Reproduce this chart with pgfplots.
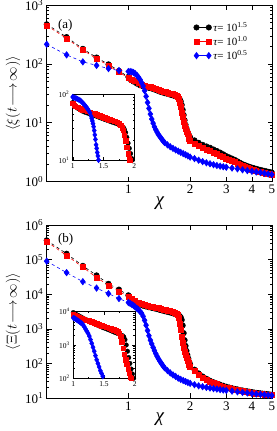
\documentclass[border=0pt]{standalone}
\usepackage{pgfplots}
\pgfplotsset{compat=1.18}
\usepackage{fontspec}
\setmainfont{Liberation Serif}
\definecolor{myred}{rgb}{1,0,0}
\definecolor{myblue}{rgb}{0,0,1}
\begin{document}
\begin{tikzpicture}
% ---------------- top panel ----------------
\begin{axis}[at={(46.7pt,249.5pt)}, anchor=south west,
  scale only axis, width=226pt, height=176.5pt, xmode=log, ymode=log,
  xmin=0.4, xmax=5.05, clip=false,
  xtick={1,2,3,4,5}, xticklabels={1,2,3,4,5}, xminorticks=false,
  tick align=inside, major tick length=5pt, minor tick length=2.5pt,
  every tick/.style={black, line width=0.5pt},
  axis line style={line width=0.6pt},
  ticklabel style={font=\fontsize{13}{13}\selectfont},
  xlabel={\fontsize{19}{19}\selectfont\itshape χ},
  xlabel style={yshift=4pt},
  ylabel style={yshift=-2pt},
  ymin=1, ymax=1000,
  ytick={1,10,100,1000},
  yticklabels={10\textsuperscript{0},10\textsuperscript{1},10\textsuperscript{2},10\textsuperscript{3}},
  minor ytick={2,3,4,5,6,7,8,9,20,30,40,50,60,70,80,90,200,300,400,500,600,700,800,900},
  ylabel={\fontsize{15}{15}\selectfont$\left\langle \xi(t\!\longrightarrow\!\infty)\right\rangle$},
  legend image code/.code={\draw[#1, solid] plot coordinates {(0pt,0pt) (12.3pt,0pt)};},
  legend style={draw=none, fill=none, at={(0.65,0.915)}, anchor=north west,
    font=\fontsize{11}{11}\selectfont, inner sep=0pt, row sep=-0.5pt, cells={anchor=west}},
]
\addplot[color=black, mark=*, mark size=2.7pt, dashed, line width=0.6pt, mark options={solid}] coordinates {(0.4,470)(0.5,285)(0.6,180)(0.7,128)(0.8,98)(0.9,76)(1.0,60)
(1.02,55)(1.06,49.9)(1.10,46.1)(1.14,43.2)(1.18,41.3)(1.22,39.9)(1.26,39)(1.30,38)(1.34,36.6)(1.38,35.2)(1.42,33.8)(1.46,32.8)(1.50,31.8)(1.54,31.1)(1.58,30.3)(1.62,29.5)(1.66,28.8)(1.70,28)(1.74,27.1)(1.76,26.3)(1.78,25)(1.80,23)(1.82,20)(1.84,16.5)(1.86,13.5)(1.88,11)(1.90,9.2)(1.92,8)(1.94,7.1)(1.96,6.5)(1.98,6.0)(2.00,5.6)
(2.1,5.0)(2.2,4.55)(2.3,4.2)(2.4,3.95)(2.5,3.75)(2.6,3.5)(2.7,3.3)(2.8,3.1)(2.9,2.9)(3.0,2.7)(3.1,2.57)(3.2,2.45)(3.3,2.33)(3.4,2.2)(3.5,2.08)(3.6,1.97)(3.7,1.9)(3.8,1.83)(3.9,1.77)(4.0,1.72)(4.1,1.68)(4.2,1.64)(4.3,1.6)(4.4,1.57)(4.5,1.54)(4.6,1.51)(4.7,1.49)(4.8,1.46)(4.9,1.44)(5.0,1.42)};
\addlegendentry{{\itshape τ}= 10\textsuperscript{1.5}}
\addplot[color=myred, mark=square*, mark size=2.5pt, dashed, line width=0.6pt, mark options={solid}] coordinates {(0.4,450)(0.5,270)(0.6,172)(0.7,122)(0.8,94)(0.9,72)(1.0,58)(1.04,54.5)(1.08,50.5)(1.12,47)(1.16,44.5)(1.20,42.5)(1.24,41.5)(1.28,40.5)(1.32,39.2)(1.36,37.8)(1.40,36.2)(1.44,35)(1.48,34)(1.52,33.1)(1.56,32.3)(1.60,31.5)(1.64,30.7)(1.68,29.9)(1.72,28.6)(1.74,27.3)(1.76,25.2)(1.78,22)(1.80,18.5)(1.82,15)(1.84,12.5)(1.86,10.5)(1.88,9)(1.90,8)(1.92,7.1)(1.94,6.4)(1.96,5.8)(1.98,5.3)(2.00,5.0)
(2.1,4.4)(2.2,4.0)(2.3,3.75)(2.4,3.5)(2.5,3.3)(2.6,3.1)(2.7,2.92)(2.8,2.75)(2.9,2.6)(3.0,2.45)(3.1,2.33)(3.2,2.22)(3.3,2.12)(3.4,2.02)(3.5,1.93)(3.6,1.85)(3.7,1.78)(3.8,1.72)(3.9,1.66)(4.0,1.61)(4.1,1.57)(4.2,1.53)(4.3,1.49)(4.4,1.46)(4.5,1.43)(4.6,1.4)(4.7,1.37)(4.8,1.35)(4.9,1.33)(5.0,1.31)};
\addlegendentry{{\itshape τ}= 10\textsuperscript{1.0}}
\addplot[color=myblue, mark=diamond*, mark size=3.2pt, dashed, line width=0.6pt, mark options={solid}] coordinates {(0.4,215)(0.5,142)(0.6,108)(0.7,94)(0.8,83)(0.9,77)(1.0,74)(1.02,74)(1.04,73)(1.06,71)(1.08,68)(1.10,64)(1.12,59)(1.14,54)(1.16,48)(1.18,42)(1.20,35)(1.22,28)(1.24,22)(1.26,17.5)(1.28,14)(1.30,11.5)(1.32,9.8)(1.34,8.5)(1.36,7.6)(1.38,6.9)(1.40,6.3)(1.42,5.9)(1.44,5.5)(1.46,5.15)(1.48,4.85)(1.50,4.6)(1.55,4.2)(1.60,3.9)(1.65,3.65)(1.70,3.45)(1.75,3.28)(1.80,3.12)(1.85,2.98)(1.90,2.85)(1.95,2.73)(2.00,2.6)
(2.1,2.45)(2.2,2.3)(2.3,2.18)(2.4,2.08)(2.5,2.0)(2.6,1.93)(2.7,1.87)(2.8,1.82)(2.9,1.78)(3.0,1.75)(3.2,1.69)(3.4,1.64)(3.6,1.58)(3.8,1.53)(4.0,1.49)(4.2,1.45)(4.4,1.42)(4.6,1.38)(4.8,1.34)(5.0,1.31)};
\addlegendentry{{\itshape τ}= 10\textsuperscript{0.5}}
\node[anchor=west, font=\fontsize{13}{13}\selectfont] at (rel axis cs:0.035,0.885) {(a)};
\end{axis}
% top inset
\begin{axis}[at={(72.7pt,271pt)}, anchor=south west,
  scale only axis, width=61.5pt, height=66pt, ymode=log,
  xmin=1, xmax=2, clip=true,
  xtick={1,1.5,2}, xticklabels={1,1.5,2}, minor x tick num=1,
  tick align=inside, major tick length=3pt, minor tick length=1.5pt,
  every tick/.style={black, line width=0.4pt},
  axis line style={line width=0.6pt},
  axis background/.style={fill=white},
  ticklabel style={font=\fontsize{7.5}{7.5}\selectfont},
  ymin=10, ymax=100, ytick={10,100},
  yticklabels={10\textsuperscript{1},10\textsuperscript{2}},
  minor ytick={20,30,40,50,60,70,80,90},
]
\addplot[color=black, mark=*, mark size=2.3pt, only marks] coordinates {(1.00,74)(1.04,66)(1.08,61)(1.12,57.5)(1.16,55)(1.20,53)(1.24,51.5)(1.28,50)(1.32,48.5)(1.36,47)(1.40,45.5)(1.44,44)(1.48,42.5)(1.52,41.2)(1.56,40)(1.60,38.8)(1.64,37.6)(1.68,36.5)(1.72,35.5)(1.76,34.5)(1.80,33)(1.82,31.5)(1.84,29)(1.86,26)(1.88,22)(1.90,18)(1.92,15)(1.94,12.5)(1.96,10.5)(1.97,10)};
\addplot[color=myred, mark=square*, mark size=2.2pt, only marks] coordinates {(1.00,72)(1.02,68)(1.04,66)(1.08,62.5)(1.12,60)(1.16,58)(1.20,56.5)(1.24,55)(1.28,53)(1.32,51.5)(1.36,50)(1.40,48.5)(1.44,47)(1.48,45.5)(1.52,44)(1.56,42.5)(1.60,41)(1.64,40)(1.68,38.8)(1.72,37.5)(1.76,35.5)(1.78,33.5)(1.80,31)(1.82,28)(1.84,24)(1.86,19.5)(1.88,15.5)(1.90,12.5)(1.92,10.5)(1.93,10)};
\addplot[color=myblue, mark=diamond*, mark size=2.8pt, only marks] coordinates {(1.00,90)(1.02,88.5)(1.04,87)(1.06,85.5)(1.08,84)(1.10,82)(1.12,80)(1.14,77)(1.16,74)(1.18,70.5)(1.20,67)(1.22,63.5)(1.24,60)(1.26,56)(1.28,52)(1.30,46)(1.31,42.5)(1.32,39)(1.33,35.5)(1.34,32)(1.35,28)(1.36,24)(1.37,20.5)(1.38,17)(1.39,15)(1.40,13)(1.41,11.5)(1.42,10)};
\end{axis}
% ---------------- bottom panel ----------------
\begin{axis}[at={(46.7pt,33pt)}, anchor=south west,
  scale only axis, width=226pt, height=173pt, xmode=log, ymode=log,
  xmin=0.4, xmax=5.05, clip=false,
  xtick={1,2,3,4,5}, xticklabels={1,2,3,4,5}, xminorticks=false,
  tick align=inside, major tick length=5pt, minor tick length=2.5pt,
  every tick/.style={black, line width=0.5pt},
  axis line style={line width=0.6pt},
  ticklabel style={font=\fontsize{13}{13}\selectfont},
  xlabel={\fontsize{19}{19}\selectfont\itshape χ},
  xlabel style={yshift=4pt},
  ylabel style={yshift=-2pt},
  ymin=10, ymax=1e6,
  ytick={10,100,1000,10000,100000,1000000},
  yticklabels={10\textsuperscript{1},10\textsuperscript{2},10\textsuperscript{3},10\textsuperscript{4},10\textsuperscript{5},10\textsuperscript{6}},
  minor ytick={20,30,40,50,60,70,80,90,200,300,400,500,600,700,800,900,2000,3000,4000,5000,6000,7000,8000,9000,20000,30000,40000,50000,60000,70000,80000,90000,200000,300000,400000,500000,600000,700000,800000,900000},
  ylabel={\fontsize{15}{15}\selectfont$\left\langle \Xi(t\!\longrightarrow\!\infty)\right\rangle$},
]
\addplot[color=black, mark=*, mark size=2.7pt, dashed, line width=0.6pt, mark options={solid}] coordinates {(0.4,3.6e5)(0.5,1.48e5)(0.6,6.6e4)(0.7,3.5e4)(0.8,2.0e4)(0.9,1.36e4)(1.0,9.3e3)
(1.02,7300)(1.06,6190)(1.10,5470)(1.14,5000)(1.18,4640)(1.22,4400)(1.26,4200)(1.30,4030)(1.34,3870)(1.38,3700)(1.42,3530)(1.46,3380)(1.50,3240)(1.54,3120)(1.58,3010)(1.62,2890)(1.66,2760)(1.70,2640)(1.74,2500)(1.76,2420)(1.78,2320)(1.80,2150)(1.82,1800)(1.84,1250)(1.86,750)(1.88,470)(1.90,320)(1.92,230)(1.94,175)(1.96,138)(1.98,111)(2.00,94)
(2.1,66)(2.2,51.5)(2.3,42)(2.4,36)(2.5,31.5)(2.6,28.5)(2.7,26.2)(2.8,24.2)(2.9,22.6)(3.0,21.2)(3.1,20.1)(3.2,19.2)(3.3,18.4)(3.4,17.7)(3.5,17)(3.6,16.5)(3.7,16)(3.8,15.6)(3.9,15.2)(4.0,14.8)(4.1,14.4)(4.2,14.1)(4.3,13.8)(4.4,13.6)(4.5,13.4)(4.6,13.2)(4.7,13)(4.8,12.8)(4.9,12.6)(5.0,12.4)};
\addplot[color=myred, mark=square*, mark size=2.5pt, dashed, line width=0.6pt, mark options={solid}] coordinates {(0.4,3.3e5)(0.5,1.32e5)(0.6,6.0e4)(0.7,3.05e4)(0.8,1.8e4)(0.9,1.2e4)(1.0,8.5e3)(1.04,7200)(1.08,6250)(1.12,5640)(1.16,5200)(1.20,4900)(1.24,4680)(1.28,4460)(1.32,4300)(1.36,4100)(1.40,3920)(1.44,3750)(1.48,3600)(1.52,3450)(1.56,3330)(1.60,3210)(1.64,3070)(1.68,2920)(1.72,2700)(1.74,2480)(1.76,2050)(1.78,1390)(1.80,910)(1.82,580)(1.84,395)(1.86,288)(1.88,222)(1.90,177)(1.92,144)(1.94,120)(1.96,102)(1.98,90)(2.00,81)
(2.1,60)(2.2,47)(2.3,38.5)(2.4,33)(2.5,29.5)(2.6,27)(2.7,25)(2.8,23)(2.9,21.5)(3.0,20.3)(3.1,19.3)(3.2,18.5)(3.3,17.7)(3.4,17)(3.5,16.4)(3.6,15.9)(3.7,15.4)(3.8,15)(3.9,14.6)(4.0,14.2)(4.1,13.9)(4.2,13.6)(4.3,13.3)(4.4,13.1)(4.5,12.9)(4.6,12.7)(4.7,12.5)(4.8,12.3)(4.9,12.1)(5.0,12)};
\addplot[color=myblue, mark=diamond*, mark size=3.2pt, dashed, line width=0.6pt, mark options={solid}] coordinates {(0.4,9.0e4)(0.5,4.2e4)(0.6,2.3e4)(0.7,1.5e4)(0.8,1.04e4)(0.9,7.5e3)(1.0,5760)(1.02,5400)(1.04,5040)(1.06,4680)(1.08,4260)(1.10,3900)(1.12,3540)(1.14,3170)(1.16,2800)(1.18,2300)(1.20,1760)(1.22,1270)(1.24,890)(1.26,630)(1.28,470)(1.30,365)(1.32,290)(1.34,234)(1.36,192)(1.38,161)(1.40,137)(1.42,119)(1.44,105)(1.46,93)(1.48,83)(1.50,75)(1.55,62)(1.60,53)(1.65,46.5)(1.70,42)(1.75,37.5)(1.80,34.5)(1.85,32)(1.90,30)(1.95,28)(2.00,26.5)
(2.1,24.2)(2.2,22.5)(2.3,21.2)(2.4,20.2)(2.5,19.4)(2.6,18.7)(2.7,18.1)(2.8,17.5)(2.9,17)(3.0,16.6)(3.2,15.8)(3.4,15.1)(3.6,14.5)(3.8,14)(4.0,13.5)(4.2,13.1)(4.4,12.8)(4.6,12.4)(4.8,12.1)(5.0,11.8)};
\node[anchor=west, font=\fontsize{13}{13}\selectfont] at (rel axis cs:0.035,0.915) {(b)};
\end{axis}
% bottom inset
\begin{axis}[at={(73.3pt,52.7pt)}, anchor=south west,
  scale only axis, width=61.5pt, height=66.6pt, ymode=log,
  xmin=1, xmax=2, clip=true,
  xtick={1,1.5,2}, xticklabels={1,1.5,2}, minor x tick num=1,
  tick align=inside, major tick length=3pt, minor tick length=1.5pt,
  every tick/.style={black, line width=0.4pt},
  axis line style={line width=0.6pt},
  axis background/.style={fill=white},
  ticklabel style={font=\fontsize{7.5}{7.5}\selectfont},
  ymin=100, ymax=10000, ytick={100,1000,10000},
  yticklabels={10\textsuperscript{2},10\textsuperscript{3},10\textsuperscript{4}},
  minor ytick={200,300,400,500,600,700,800,900,2000,3000,4000,5000,6000,7000,8000,9000},
]
\addplot[color=black, mark=*, mark size=2.3pt, only marks] coordinates {(1.00,9400)(1.04,8500)(1.08,7700)(1.12,7000)(1.16,6400)(1.20,5900)(1.24,5400)(1.28,4900)(1.32,4550)(1.36,4200)(1.40,3900)(1.44,3600)(1.48,3350)(1.52,3150)(1.56,2950)(1.60,2750)(1.64,2550)(1.68,2380)(1.72,2220)(1.76,2080)(1.80,1900)(1.82,1750)(1.84,1450)(1.86,1000)(1.88,650)(1.90,420)(1.92,280)(1.94,190)(1.96,135)(1.98,100)};
\addplot[color=myred, mark=square*, mark size=2.2pt, only marks] coordinates {(1.00,8200)(1.02,7900)(1.06,7300)(1.10,6800)(1.14,6400)(1.18,6000)(1.22,5650)(1.26,5300)(1.30,5000)(1.34,4700)(1.38,4400)(1.42,4100)(1.46,3850)(1.50,3600)(1.54,3400)(1.58,3250)(1.62,3100)(1.66,2900)(1.70,2700)(1.73,2500)(1.75,2250)(1.77,1800)(1.79,1250)(1.81,800)(1.83,520)(1.85,360)(1.87,260)(1.89,190)(1.91,145)(1.93,110)(1.94,100)};
\addplot[color=myblue, mark=diamond*, mark size=2.8pt, only marks] coordinates {(1.00,6500)(1.02,6300)(1.04,6000)(1.06,5600)(1.08,5300)(1.10,5000)(1.12,4700)(1.14,4400)(1.16,4000)(1.18,3500)(1.20,3000)(1.22,2600)(1.24,2250)(1.26,1850)(1.28,1450)(1.30,1120)(1.32,860)(1.34,650)(1.36,480)(1.38,360)(1.40,280)(1.42,220)(1.44,170)(1.46,140)(1.48,115)(1.50,96)};
\end{axis}
\pgfresetboundingbox
\useasboundingbox (0,0) rectangle (276pt,431pt);
\end{tikzpicture}
\end{document}
